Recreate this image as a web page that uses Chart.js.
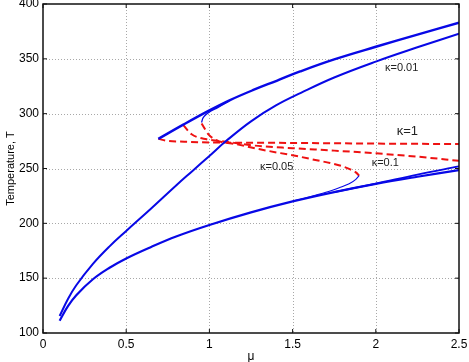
<!DOCTYPE html>
<html>
<head>
<meta charset="utf-8">
<script src="https://cdn.jsdelivr.net/npm/chart.js@4/dist/chart.umd.min.js"></script>
<style>
  html, body { margin: 0; padding: 0; background: #fff; }
  canvas { display: block; }
</style>
</head>
<body>
<canvas id="tempChart" width="469" height="362"></canvas>
<script>
// curve samples: mu (x) and temperature T (y)
const lowerMu = [0.1, 0.15, 0.2, 0.3, 0.4, 0.5, 0.65, 0.8, 1.0, 1.25, 1.5, 1.75, 2.0, 2.25, 2.5];
const lowerT  = [111.2, 124.5, 134.5, 149, 159.5, 168, 178.5, 188, 198.5, 210, 220, 228.5, 236, 242.5, 248.5];

const lowerK1Mu = [1.75, 2.0, 2.25, 2.5];
const lowerK1T  = [228.5, 236.3, 244.5, 252];

const k005LowMu = [1.5, 1.6, 1.7, 1.78, 1.84, 1.88, 1.9];
const k005LowT  = [220.2, 224, 228.3, 232.5, 236, 240, 243.5];

const k001Mu = [0.1, 0.15, 0.2, 0.3, 0.4, 0.5, 0.65, 0.8, 0.9, 1.0, 1.1, 1.25, 1.4, 1.55, 1.75, 2.0, 2.25, 2.5];
const k001T  = [115.5, 131, 143.5, 163, 179, 193, 213.5, 234.5, 248, 261.5, 275, 293, 307.5, 319, 333, 347.5, 360.5, 373];

const upperMu = [0.693, 0.843, 1.0, 1.124, 1.264, 1.404, 1.545, 1.75, 2.0, 2.25, 2.5];
const upperT  = [277, 290, 303, 312.4, 321.6, 330, 338.5, 349.5, 361, 372, 383];

const k005UpMu = [0.953, 0.96, 0.975, 1.0, 1.05, 1.12];
const k005UpT  = [292, 295.5, 298.5, 301.5, 305.5, 311.5];

// unstable (dashed) branches
const k1DashMu = [0.693, 0.75, 0.85, 1.0, 1.5, 2.0, 2.5];
const k1DashT  = [277, 275.2, 274.4, 273.8, 273.3, 272.7, 272.3];

const k01DashMu = [0.843, 0.893, 0.983, 1.064, 1.264, 1.5, 1.75, 2.0, 2.25, 2.5];
const k01DashT  = [289.5, 281.2, 276.6, 275.2, 271, 268.5, 266.3, 263.8, 260.8, 257];

const k005DashMu = [0.953, 0.994, 1.044, 1.164, 1.304, 1.545, 1.645, 1.725, 1.8, 1.85, 1.88, 1.9];
const k005DashT  = [291, 281.2, 275.7, 272.1, 267.5, 260.7, 257.5, 255, 252, 249, 246.5, 243.5];

const xTicks = [0, 0.5, 1, 1.5, 2, 2.5];
const yTicks = [100, 150, 200, 250, 300, 350, 400];

const labelText = ['\u03ba=0.01', '\u03ba=1', '\u03ba=0.1', '\u03ba=0.05'];
const labelMu   = [2.055, 2.126, 1.975, 1.304];
const labelT    = [341.4, 283.5, 254.7, 251.3];
const labelSize = [11, 13, 11, 11];

const BLUE = '#0808e6';
const RED = '#ee1111';
const FONT = "'Liberation Sans', Arial, sans-serif";

const pts = (xs, ys) => xs.map((x, i) => ({ x: x, y: ys[i] }));

function solid(xs, ys, w, mono) {
  return {
    data: pts(xs, ys), borderColor: BLUE, borderWidth: w,
    showLine: true, pointRadius: 0, fill: false,
    tension: 0.4, cubicInterpolationMode: mono ? 'monotone' : 'default'
  };
}
function dashed(xs, ys) {
  return {
    data: pts(xs, ys), borderColor: RED, borderWidth: 2, borderDash: [7, 4],
    showLine: true, pointRadius: 0, cubicInterpolationMode: 'monotone', fill: false
  };
}

// dotted grid under the curves
const gridPlugin = {
  id: 'dotgrid',
  beforeDatasetsDraw(chart) {
    const { ctx, chartArea: a, scales } = chart;
    ctx.save();
    ctx.strokeStyle = '#a8a8a8';
    ctx.lineWidth = 1;
    ctx.setLineDash([1, 2]);
    ctx.beginPath();
    xTicks.slice(1, -1).forEach(v => {
      const px = Math.round(scales.x.getPixelForValue(v)) + 0.5;
      ctx.moveTo(px, a.top); ctx.lineTo(px, a.bottom);
    });
    yTicks.slice(1, -1).forEach(v => {
      const py = Math.round(scales.y.getPixelForValue(v)) + 0.5;
      ctx.moveTo(a.left, py); ctx.lineTo(a.right, py);
    });
    ctx.stroke();
    ctx.restore();
  }
};

const framePlugin = {
  id: 'frame',
  afterDraw(chart) {
    const { ctx, chartArea: a, scales } = chart;
    ctx.save();
    ctx.strokeStyle = '#111';
    ctx.lineWidth = 1.5;
    ctx.strokeRect(a.left, a.top, a.right - a.left, a.bottom - a.top);
    ctx.lineWidth = 1;
    ctx.beginPath();
    xTicks.forEach(v => {
      const px = scales.x.getPixelForValue(v);
      ctx.moveTo(px, a.bottom); ctx.lineTo(px, a.bottom - 4);
      ctx.moveTo(px, a.top); ctx.lineTo(px, a.top + 4);
    });
    yTicks.forEach(v => {
      const py = scales.y.getPixelForValue(v);
      ctx.moveTo(a.left, py); ctx.lineTo(a.left + 4, py);
      ctx.moveTo(a.right, py); ctx.lineTo(a.right - 4, py);
    });
    ctx.stroke();

    // curve labels
    ctx.fillStyle = '#222';
    ctx.textBaseline = 'middle';
    ctx.textAlign = 'left';
    labelText.forEach((t, i) => {
      ctx.font = labelSize[i] + 'px ' + FONT;
      ctx.fillText(t, scales.x.getPixelForValue(labelMu[i]), scales.y.getPixelForValue(labelT[i]));
    });
    ctx.restore();
  }
};

const chart = new Chart(document.getElementById('tempChart'), {
  type: 'scatter',
  data: {
    datasets: [
      solid(lowerMu, lowerT, 2.2),
      solid(lowerK1Mu, lowerK1T, 1.8),
      solid(k005LowMu, k005LowT, 1.1, true),
      solid(k001Mu, k001T, 2),
      solid(upperMu, upperT, 2.4),
      solid(k005UpMu, k005UpT, 1.3, true),
      dashed(k1DashMu, k1DashT),
      dashed(k01DashMu, k01DashT),
      dashed(k005DashMu, k005DashT)
    ]
  },
  options: {
    responsive: false,
    animation: false,
    devicePixelRatio: 1,
    layout: { padding: { top: 4, right: 10, left: 0, bottom: 0 } },
    plugins: { legend: { display: false }, tooltip: { enabled: false } },
    scales: {
      x: {
        type: 'linear', min: 0, max: 2.5,
        afterBuildTicks: s => { s.ticks = xTicks.map(v => ({ value: v })); },
        afterFit: s => { s.height = 29; s.paddingLeft = 0; s.paddingRight = 0; },
        ticks: { color: '#000', padding: 4, font: { family: FONT, size: 12 }, callback: v => String(v) },
        grid: { display: false, drawTicks: false },
        border: { display: false },
        title: { display: true, text: '\u03bc', color: '#000', font: { family: FONT, size: 12 }, padding: { top: 0, bottom: -2 } }
      },
      y: {
        type: 'linear', min: 100, max: 400,
        afterBuildTicks: s => { s.ticks = yTicks.map(v => ({ value: v })); },
        afterFit: s => { s.width = 43; s.paddingTop = 0; s.paddingBottom = 0; },
        ticks: { color: '#000', padding: 4, font: { family: FONT, size: 12 } },
        grid: { display: false, drawTicks: false },
        border: { display: false },
        title: { display: true, text: 'Temperature, T', color: '#000', font: { family: FONT, size: 11 }, padding: { top: 4, bottom: 0 } }
      }
    }
  },
  plugins: [gridPlugin, framePlugin]
});
</script>
</body>
</html>
